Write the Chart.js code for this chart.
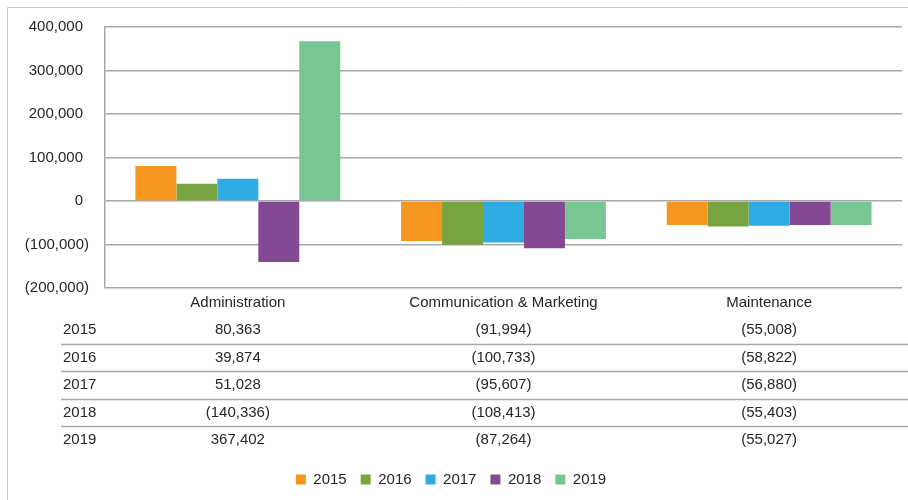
<!DOCTYPE html>
<html>
<head>
<meta charset="utf-8">
<script src="https://cdn.jsdelivr.net/npm/chart.js@4"></script>
<style>
  html, body { margin: 0; padding: 0; background: #fff; }
  #wrap { width: 908px; height: 500px; }
</style>
</head>
<body>
<div id="wrap"><canvas id="myChart" width="908" height="500"></canvas></div>
<script>
// data
const categories = ['Administration', 'Communication & Marketing', 'Maintenance'];
const years = ['2015', '2016', '2017', '2018', '2019'];
const values2015 = [80363, -91994, -55008];
const values2016 = [39874, -100733, -58822];
const values2017 = [51028, -95607, -56880];
const values2018 = [-140336, -108413, -55403];
const values2019 = [367402, -87264, -55027];
const yTicks = [-200000, -100000, 0, 100000, 200000, 300000, 400000];

const seriesValues = [values2015, values2016, values2017, values2018, values2019];
const colors = ['#F7961F', '#77A441', '#2EABE2', '#834A93', '#78C692'];

const FONT = "'Liberation Sans', Arial, sans-serif";
const TEXT = '#262626';
const GRID = '#a8a8a8';

function fmt(v) {
    const s = Math.abs(v).toLocaleString('en-US');
    return v < 0 ? '(' + s + ')' : s;
}

// frame line at top/left, like the sheet border in the picture
const framePlugin = {
    id: 'frame',
    beforeDraw(chart) {
        const ctx = chart.ctx;
        ctx.save();
        ctx.strokeStyle = '#c8c8c8';
        ctx.lineWidth = 1;
        ctx.beginPath();
        ctx.moveTo(7.5, 500);
        ctx.lineTo(7.5, 7.5);
        ctx.lineTo(908, 7.5);
        ctx.stroke();
        ctx.restore();
    }
};

// data table under the category labels
const tablePlugin = {
    id: 'dataTable',
    afterDraw(chart) {
        const ctx = chart.ctx;
        const xs = chart.scales.x;
        const base = chart.chartArea.bottom;
        const rowH = 27.5;
        const firstRow = base + 42;
        ctx.save();
        ctx.font = '15px ' + FONT;
        ctx.fillStyle = TEXT;
        ctx.textBaseline = 'middle';
        years.forEach(function(year, r) {
            const y = firstRow + r * rowH;
            ctx.textAlign = 'left';
            ctx.fillText(year, 63, y);
            ctx.textAlign = 'center';
            seriesValues[r].forEach(function(v, i) {
                ctx.fillText(fmt(v), xs.getPixelForValue(i), y);
            });
            if (r < years.length - 1) {
                const ly = Math.round(y + rowH / 2) + 0.5;
                ctx.strokeStyle = GRID;
                ctx.lineWidth = 1.5;
                ctx.beginPath();
                ctx.moveTo(61, ly);
                ctx.lineTo(908, ly);
                ctx.stroke();
            }
        });
        ctx.restore();
    }
};

const ctx = document.getElementById('myChart').getContext('2d');
new Chart(ctx, {
    type: 'bar',
    data: {
        labels: categories,
        datasets: years.map(function(year, i) {
            return {
                label: year,
                data: seriesValues[i],
                backgroundColor: colors[i],
                borderWidth: 0,
                categoryPercentage: 0.771,
                barPercentage: 1.0
            };
        })
    },
    options: {
        responsive: false,
        animation: false,
        devicePixelRatio: 1,
        layout: { padding: { top: 27, right: 6, bottom: 3, left: 0 } },
        plugins: {
            tooltip: { enabled: false },
            legend: {
                position: 'bottom',
                labels: {
                    boxWidth: 10,
                    boxHeight: 10,
                    padding: 14,
                    color: TEXT,
                    font: { family: FONT, size: 15 }
                }
            }
        },
        scales: {
            x: {
                grid: { display: false, drawTicks: false },
                border: { display: false },
                ticks: {
                    color: TEXT,
                    font: { family: FONT, size: 15 },
                    padding: 6,
                    maxRotation: 0,
                    autoSkip: false
                },
                afterFit: function(scale) { scale.height = 170; }
            },
            y: {
                min: -200000,
                max: 400000,
                afterBuildTicks: function(scale) {
                    scale.ticks = yTicks.map(function(v) { return { value: v }; });
                },
                grid: { color: GRID, lineWidth: 1.5, drawTicks: false },
                border: { color: GRID, width: 1.5 },
                ticks: {
                    color: TEXT,
                    font: { family: FONT, size: 15 },
                    padding: 16,
                    // positives leave room for the closing bracket, accounting style
                    callback: function(v) { return v < 0 ? fmt(v) : fmt(v) + '\u2009\u2009'; }
                },
                afterFit: function(scale) { scale.width = 105; }
            }
        }
    },
    plugins: [framePlugin, tablePlugin]
});
</script>
</body>
</html>
